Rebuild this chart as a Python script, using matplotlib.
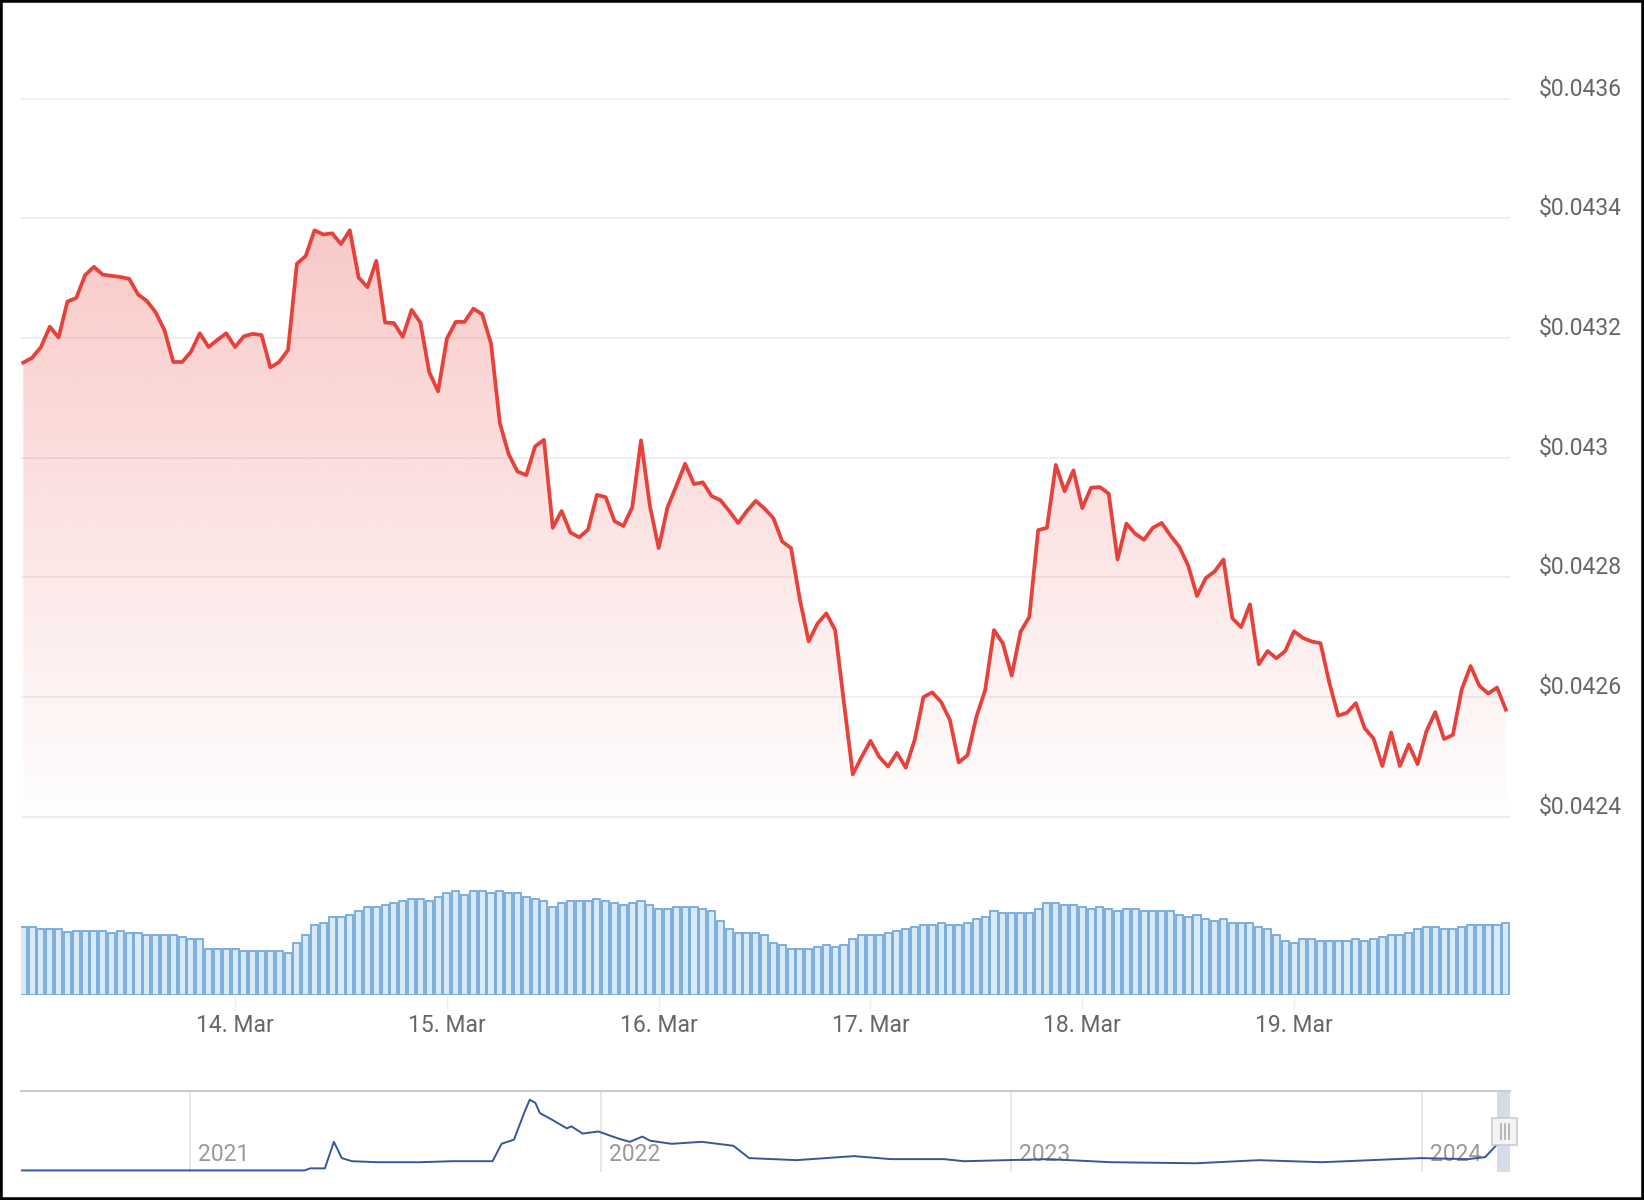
import numpy as np
import pandas as pd
import matplotlib
matplotlib.use("Agg")
import matplotlib.pyplot as plt
import matplotlib.dates as mdates
from matplotlib.colors import to_rgb
from matplotlib.patches import Rectangle
from matplotlib.lines import Line2D
from matplotlib.transforms import ScaledTranslation

plt.rcParams['font.family'] = ['Roboto', 'DejaVu Sans']

# hourly price, 13 Mar 00:00 -> 20 Mar 00:00
START = "2024-03-13 00:00"
price = [
    0.043159, 0.043167, 0.043185, 0.043219, 0.043201, 0.043261, 0.043267, 0.043305,
    0.043319, 0.043306, 0.043304, 0.043302, 0.043299, 0.043273, 0.043262, 0.043243,
    0.043213, 0.043160, 0.043160, 0.043177, 0.043208, 0.043185, 0.043197, 0.043208,
    0.043185, 0.043203, 0.043207, 0.043205, 0.043151, 0.043160, 0.043180, 0.043324,
    0.043337, 0.043380, 0.043373, 0.043375, 0.043357, 0.043380, 0.043301, 0.043285,
    0.043329, 0.043226, 0.043225, 0.043202, 0.043247, 0.043226, 0.043143, 0.043111,
    0.043199, 0.043227, 0.043227, 0.043249, 0.043240, 0.043191, 0.043058, 0.043006,
    0.042977, 0.042971, 0.043019, 0.043030, 0.042883, 0.042911, 0.042875, 0.042867,
    0.042880, 0.042938, 0.042934, 0.042894, 0.042886, 0.042917, 0.043029, 0.042920,
    0.042849, 0.042917, 0.042953, 0.042990, 0.042956, 0.042959, 0.042936, 0.042929,
    0.042911, 0.042891, 0.042911, 0.042928, 0.042915, 0.042899, 0.042860, 0.042849,
    0.042763, 0.042693, 0.042723, 0.042740, 0.042712, 0.042590, 0.042471, 0.042500,
    0.042527, 0.042500, 0.042484, 0.042507, 0.042482, 0.042528, 0.042600, 0.042608,
    0.042592, 0.042562, 0.042491, 0.042503, 0.042567, 0.042612, 0.042712, 0.042690,
    0.042636, 0.042709, 0.042734, 0.042879, 0.042883, 0.042988, 0.042944, 0.042979,
    0.042916, 0.042950, 0.042951, 0.042940, 0.042830, 0.042890, 0.042873, 0.042863,
    0.042883, 0.042891, 0.042870, 0.042851, 0.042820, 0.042769, 0.042799, 0.042810,
    0.042830, 0.042732, 0.042717, 0.042755, 0.042655, 0.042677, 0.042665, 0.042677,
    0.042710, 0.042699, 0.042693, 0.042690, 0.042624, 0.042569, 0.042574, 0.042590,
    0.042548, 0.042531, 0.042485, 0.042541, 0.042485, 0.042521, 0.042488, 0.042543,
    0.042575, 0.042530, 0.042537, 0.042613, 0.042652, 0.042619, 0.042606, 0.042616,
    0.042579,
]

# hourly volume (relative units, axis is hidden)
volume = [
    204, 204, 199, 199, 199, 189, 192, 192, 192, 192,
    187, 192, 187, 187, 181, 181, 181, 181, 175, 169,
    169, 139, 139, 139, 139, 132, 132, 132, 132, 132,
    127, 157, 179, 210, 217, 234, 234, 240, 252, 265,
    265, 270, 275, 282, 287, 287, 282, 294, 305, 311,
    299, 311, 311, 305, 311, 305, 305, 294, 287, 282,
    264, 275, 282, 282, 282, 287, 282, 275, 270, 275,
    282, 270, 257, 257, 263, 263, 263, 257, 252, 222,
    198, 187, 187, 187, 181,
    157, 150, 139, 139, 139, 144, 150, 144, 150, 169,
    181, 181, 181, 187, 192, 198, 204, 210, 210, 216,
    210, 210, 216, 228, 234, 252, 246, 246, 246, 246,
    258, 275, 275, 270, 270, 264, 258, 264, 258, 252,
    258, 258, 252, 252, 252, 252, 240, 234, 240, 228,
    222, 228, 216, 216, 216, 204, 198, 181, 163, 157,
    169, 169, 163, 163, 163, 163, 169, 163, 169, 175,
    181, 181, 187, 198, 204, 204, 198, 198, 204, 210,
    210, 210, 210, 216,
]

price_ticks = [0.0424, 0.0426, 0.0428, 0.0430, 0.0432, 0.0434, 0.0436]
price_labels = ["$0.0424", "$0.0426", "$0.0428", "$0.043", "$0.0432", "$0.0434", "$0.0436"]
day_ticks = ["2024-03-14", "2024-03-15", "2024-03-16", "2024-03-17", "2024-03-18", "2024-03-19"]
day_labels = ["14. Mar", "15. Mar", "16. Mar", "17. Mar", "18. Mar", "19. Mar"]

# navigator: full history
nav_dates = [
    "2020-08-04", "2021-04-13", "2021-04-18", "2021-05-01", "2021-05-09", "2021-05-16",
    "2021-05-25", "2021-06-17", "2021-07-24", "2021-08-22", "2021-09-27", "2021-10-05",
    "2021-10-16", "2021-10-25", "2021-10-30", "2021-11-04", "2021-11-08", "2021-11-18",
    "2021-12-02", "2021-12-06", "2021-12-16", "2021-12-30", "2022-01-17", "2022-01-27",
    "2022-02-07", "2022-02-14", "2022-03-05", "2022-04-01", "2022-04-29", "2022-05-13",
    "2022-06-24", "2022-08-14", "2022-09-16", "2022-11-02", "2022-11-20", "2023-02-03",
    "2023-03-31", "2023-06-14", "2023-08-09", "2023-10-04", "2023-12-08", "2023-12-31",
    "2024-02-11", "2024-02-26", "2024-03-08", "2024-03-20",
]
nav_price = [
    0.0, 0.0, 0.0026, 0.0026, 0.036, 0.0155,
    0.0116, 0.0103, 0.0103, 0.0116, 0.0116, 0.0335,
    0.0387, 0.0722, 0.089, 0.0851, 0.0722, 0.0645,
    0.0529, 0.0555, 0.0464, 0.049, 0.040, 0.036,
    0.0426, 0.0374, 0.0335, 0.036, 0.031, 0.0155,
    0.0129, 0.018, 0.0142, 0.0142, 0.0116, 0.0142,
    0.0103, 0.009, 0.0129, 0.0103, 0.0142, 0.0155,
    0.0142, 0.0168, 0.0335, 0.0426,
]
years = ["2021", "2022", "2023", "2024"]

RED = "#e8403a"
W, H = 1644, 1200


def box(x0, y0, x1, y1):
    return [x0 / W, 1 - y1 / H, (x1 - x0) / W, (y1 - y0) / H]


times = pd.date_range(START, periods=len(price), freq="h")
hour = pd.Timedelta(hours=1)
xlim = (times[0] - 0.26 * hour, times[-1] + 0.47 * hour)

fig = plt.figure(figsize=(W / 100, H / 100), dpi=100)

# ---------- price ----------
ax = fig.add_axes(box(21, 40, 1510, 830))
ylo, yhi = 0.042378, 0.043698

poly = ax.fill_between(times, price, ylo, facecolor="none", edgecolor="none")
grad = np.zeros((256, 1, 4))
grad[..., :3] = to_rgb(RED)
grad[..., 3] = np.linspace(0.28, 0.0, 256)[:, None]
x0n, x1n = mdates.date2num(times[0]), mdates.date2num(times[-1])
im = ax.imshow(grad, extent=[x0n, x1n, ylo, max(price)], aspect="auto",
               origin="upper", zorder=1, interpolation="bilinear")
im.set_clip_path(poly.get_paths()[0], transform=ax.transData)
ax.set_xlim(xlim)
ax.set_ylim(ylo, yhi)

ax.plot(times, price, color=RED, lw=2.7, zorder=3, solid_joinstyle="round")

ax.set_yticks(price_ticks, price_labels)
ax.yaxis.tick_right()
ax.tick_params(axis="y", length=0, pad=21, labelsize=16.5, labelcolor="#666666")
ax.tick_params(axis="x", bottom=False, labelbottom=False)
shift = ScaledTranslation(0, 0.12, fig.dpi_scale_trans)
for lbl in ax.get_yticklabels():
    lbl.set_horizontalalignment("left")
    lbl.set_transform(lbl.get_transform() + shift)
ax.grid(axis="y", color="#ececec", lw=1.2)
ax.set_axisbelow(True)
for s in ax.spines.values():
    s.set_visible(False)

# ---------- volume ----------
axv = fig.add_axes(box(21, 860, 1510, 995))
axv.bar(times, volume, width=0.8 / 24, color="#d8e9f8", edgecolor="#76a9da", linewidth=1.3)
axv.set_xlim(xlim)
axv.set_ylim(0, 405)
axv.set_yticks([])
axv.set_xticks(pd.to_datetime(day_ticks), day_labels)
axv.tick_params(axis="x", length=11, width=1, color="#eeeeee", pad=3,
                labelsize=16.5, labelcolor="#666666")
for s in axv.spines.values():
    s.set_visible(False)

# ---------- navigator ----------
axn = fig.add_axes(box(21, 1091, 1510, 1172))
axn.plot(pd.to_datetime(nav_dates), nav_price, color="#34579b", lw=1.4, zorder=3)
axn.set_xlim(pd.Timestamp("2020-08-04"), pd.Timestamp("2024-03-19"))
axn.set_ylim(-0.002, 0.1)
for y in years:
    d = pd.Timestamp(y + "-01-01")
    axn.axvline(d, color="#e3e3e3", lw=1.2, zorder=1)
    axn.annotate(y, (d, 0), xycoords=("data", "axes fraction"), xytext=(8, 6),
                 textcoords="offset pixels", fontsize=16.5, color="#999999",
                 ha="left", va="bottom", zorder=2)
axn.set_xticks([])
axn.set_yticks([])
for k, s in axn.spines.items():
    s.set_visible(k == "top")
axn.spines["top"].set_color("#cccccc")
axn.spines["top"].set_linewidth(1.5)

# selected range mask + handle
fig.add_artist(Rectangle((1497 / W, 1 - 1172 / H), 13 / W, 81 / H,
                         transform=fig.transFigure, facecolor="#c9d2e3", alpha=0.75,
                         edgecolor="none", zorder=4))
fig.add_artist(Rectangle((1492 / W, 1 - 1145 / H), 25 / W, 27 / H,
                         transform=fig.transFigure, facecolor="#f4f4f4",
                         edgecolor="#cccccc", linewidth=1.2, zorder=5))
for xp in (1501, 1505, 1509):
    fig.add_artist(Line2D([xp / W, xp / W], [1 - 1139 / H, 1 - 1124 / H],
                          transform=fig.transFigure, color="#aaaaaa", lw=1.2, zorder=6))

# outer frame
fig.add_artist(Rectangle((0, 0), 1, 1, transform=fig.transFigure, fill=False,
                         edgecolor="black", linewidth=4, zorder=10))

fig.savefig("out.png", dpi=100, facecolor="white")
